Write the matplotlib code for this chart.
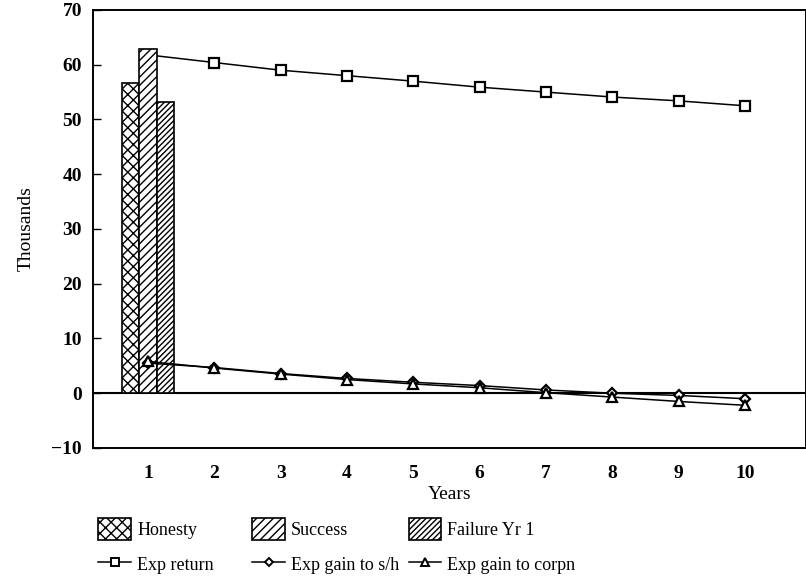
import numpy as np
import matplotlib.pyplot as plt
from matplotlib.patches import Patch
from matplotlib.lines import Line2D

plt.rcParams['font.family'] = ['Liberation Serif', 'DejaVu Serif']
plt.rcParams['hatch.linewidth'] = 1.0

# year-1 outcomes (thousands)
bar_labels = ["Honesty", "Success", "Failure Yr 1"]
bar_values = [56.7, 62.8, 53.2]
bar_hatches = ["xxx", "////", "//////"]

years = np.arange(1, 11)
exp_return = [61.8, 60.4, 59.0, 58.0, 57.0, 55.9, 55.0, 54.1, 53.4, 52.5]
gain_sh = [5.5, 4.7, 3.6, 2.7, 2.0, 1.4, 0.6, 0.0, -0.4, -1.0]
gain_corpn = [5.8, 4.6, 3.5, 2.5, 1.7, 1.0, 0.1, -0.7, -1.5, -2.2]

fig = plt.figure(figsize=(8.06, 5.80), dpi=100)
ax = fig.add_axes([0.1154, 0.2276, 0.8846, 0.7552])

width = 0.26
offsets = [-width, 0, width]
for val, off, h in zip(bar_values, offsets, bar_hatches):
    ax.bar(1 + off, val, width=width, facecolor="white", edgecolor="black",
           hatch=h, linewidth=1.2, zorder=3)

ax.plot(years, exp_return, color="black", lw=1.1, marker="s", markersize=7,
        markerfacecolor="white", markeredgewidth=1.6, zorder=2)
ax.plot(years, gain_sh, color="black", lw=1.1, marker="D", markersize=5,
        markerfacecolor="white", markeredgewidth=1.6, zorder=4)
ax.plot(years, gain_corpn, color="black", lw=1.1, marker="^", markersize=7,
        markerfacecolor="white", markeredgewidth=1.6, zorder=4)

ax.axhline(0, color="black", lw=1.5, zorder=1)

ax.set_xlim(0.17, 10.92)
ax.set_ylim(-10, 70)
ax.set_yticks(np.arange(-10, 71, 10))
ax.set_yticklabels(["\u221210"] + [str(v) for v in range(0, 71, 10)])
ax.set_xticks(years)
ax.tick_params(axis="y", direction="in", length=6, width=1, labelsize=14, pad=8)
ax.tick_params(axis="x", length=0, labelsize=14, pad=12)
for lab in ax.get_xticklabels() + ax.get_yticklabels():
    lab.set_fontweight("bold")
for s in ax.spines.values():
    s.set_linewidth(1.4)

ax.set_xlabel("Years", fontsize=14, labelpad=3)
ax.set_ylabel("Thousands", fontsize=14, labelpad=12)

line_handles = [
    Line2D([], [], color="black", lw=1.1, marker="s", markersize=6,
           markerfacecolor="white", markeredgewidth=1.4),
    Line2D([], [], color="black", lw=1.1, marker="D", markersize=4,
           markerfacecolor="white", markeredgewidth=1.4),
    Line2D([], [], color="black", lw=1.1, marker="^", markersize=6,
           markerfacecolor="white", markeredgewidth=1.4),
]
line_labels = ["Exp return", "Exp gain to s/h", "Exp gain to corpn"]

col_x = [0.122, 0.313, 0.507]
for i in range(3):
    patch = Patch(facecolor="white", edgecolor="black", hatch=bar_hatches[i], lw=1.2)
    fig.legend([patch, line_handles[i]], [bar_labels[i], line_labels[i]],
               loc="upper left", bbox_to_anchor=(col_x[i], 0.107),
               frameon=False, fontsize=13, handlelength=1.8, handleheight=1.5,
               handletextpad=0.35, labelspacing=0.75, borderpad=0, borderaxespad=0)

fig.savefig("out.png", dpi=100)
